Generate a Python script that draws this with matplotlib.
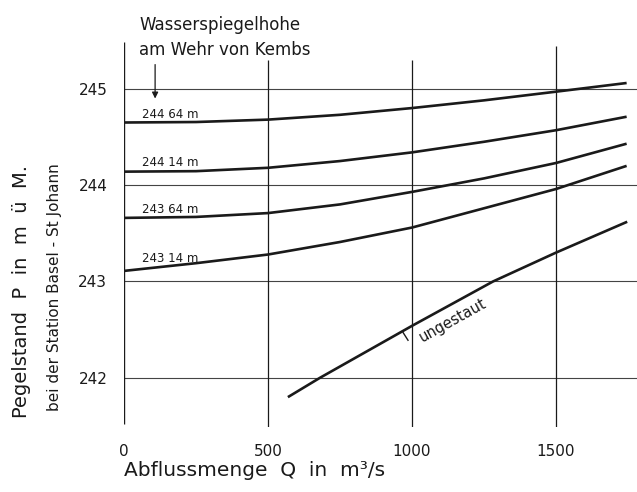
import matplotlib
matplotlib.use('Agg')
import matplotlib.pyplot as plt

# Discharge values (m3/s)
q_points = [0, 250, 500, 750, 1000, 1250, 1500, 1745]

# Gauge level at Basel - St. Johann for each weir level at Kembs
weir_levels = ['244 64 m', '244 14 m', '243 64 m', '243 14 m']
p_24464 = [244.65, 244.655, 244.68, 244.73, 244.80, 244.88, 244.97, 245.06]
p_24414 = [244.14, 244.145, 244.18, 244.25, 244.34, 244.45, 244.57, 244.71]
p_24364 = [243.66, 243.67, 243.71, 243.80, 243.93, 244.07, 244.23, 244.43]
p_24314 = [243.11, 243.19, 243.28, 243.41, 243.56, 243.76, 243.96, 244.20]

# Natural (not dammed) curve
q_free = [569, 680, 1000, 1281, 1500, 1747]
p_free = [241.80, 242.00, 242.54, 243.00, 243.30, 243.62]

x_ticks = [0, 500, 1000, 1500]
y_ticks = [242, 243, 244, 245]

ink = '#1a1a1a'

fig = plt.figure(figsize=(6.37, 4.92), dpi=100)
# axes placed so the data area lines up with the reference
ax = fig.add_axes([124 / 637, 65 / 492, 513 / 637, 397 / 492])
ax.set_xlim(0, 1781)
ax.set_ylim(241.49, 245.61)
for side in ax.spines.values():
    side.set_visible(False)

# grid: horizontal lines to the right edge, vertical lines with own tops
ax.hlines(y_ticks, 0, 1781, color='#444444', lw=0.8)
ax.vlines(0, 241.52, 245.49, color=ink, lw=1.0)
ax.vlines([500, 1000], 241.49, 245.30, color=ink, lw=0.9)
ax.vlines(1500, 241.49, 245.44, color=ink, lw=0.9)

# curves with their labels just above the left end
for vals, lab, dy in zip([p_24464, p_24414, p_24364, p_24314], weir_levels,
                         [0.05, 0.06, 0.05, 0.09]):
    ax.plot(q_points, vals, color=ink, lw=1.9, solid_capstyle='butt',
            solid_joinstyle='round')
    ax.text(62, vals[0] + dy, lab, fontsize=8.5, color=ink, va='baseline')

ax.plot(q_free, p_free, color=ink, lw=1.9, solid_capstyle='butt',
        solid_joinstyle='round')
ax.text(1142, 242.60, 'ungestaut', fontsize=10.5, color=ink, rotation=29,
        ha='center', va='center', rotation_mode='anchor')
ax.plot([969, 986], [242.47, 242.39], color=ink, lw=1.0)

# arrow pointing from the header to the curve labels
ax.annotate('', xy=(108, 244.87), xytext=(108, 245.28),
            arrowprops=dict(arrowstyle='-|>', color=ink, lw=0.9,
                            mutation_scale=9))

ax.set_xticks(x_ticks)
ax.set_yticks(y_ticks)
ax.tick_params(length=0, labelsize=11, colors=ink)
ax.tick_params(axis='x', pad=12)
ax.tick_params(axis='y', pad=12)

fig.text(139 / 637, 1 - 25 / 492, 'Wasserspiegelhohe', fontsize=12,
         color=ink, va='center')
fig.text(139 / 637, 1 - 50 / 492, 'am Wehr von Kembs', fontsize=12,
         color=ink, va='center')

fig.text(22 / 637, 1 - 292 / 492, 'Pegelstand  P  in  m  ü  M.', fontsize=14,
         color=ink, rotation=90, ha='center', va='center')
fig.text(55 / 637, 1 - 287 / 492, 'bei der Station Basel - St Johann',
         fontsize=11, color=ink, rotation=90, ha='center', va='center')
fig.text(255 / 637, 1 - 470 / 492, 'Abflussmenge  Q  in  m³/s', fontsize=14.5,
         color=ink, ha='center', va='center')

fig.savefig('out.png', dpi=100)
